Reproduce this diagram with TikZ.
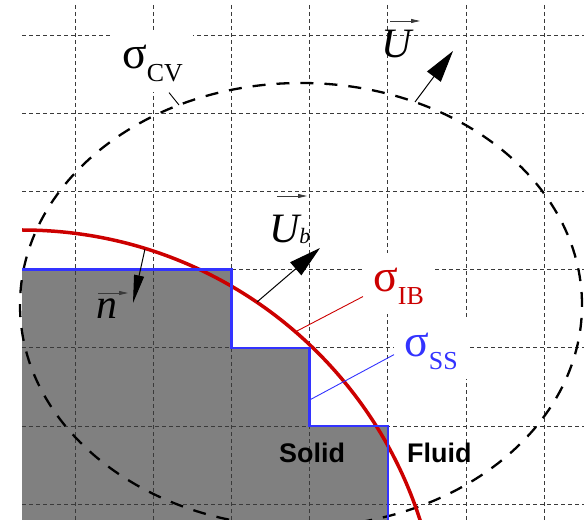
\documentclass[tikz,border=0pt]{standalone}
\usepackage{fontspec}
\setmainfont{Liberation Serif}
\newfontfamily\labelsans{Liberation Sans}
\usetikzlibrary{arrows.meta}
\definecolor{ibred}{HTML}{CC0000}
\definecolor{ssblue}{HTML}{3333FF}
\definecolor{solidgrey}{HTML}{808080}
\definecolor{gridgrey}{HTML}{3A3A3A}
\newcommand\sigsub[1]{{\fontsize{46}{46}\selectfont σ}\raisebox{-13bp}{\fontsize{26}{26}\selectfont #1}}
\begin{document}
\begin{tikzpicture}[x=1bp,y=-1bp,
  gridline/.style={gridgrey,line width=0.8bp,dash pattern=on 4bp off 3bp},
  cvline/.style={black,line width=2.3bp,dash pattern=on 13bp off 11bp},
  ibline/.style={ibred,line width=3.5bp},
  ssline/.style={ssblue,line width=2.5bp},
  bigarrow/.style={black,line width=1bp,-{Triangle[length=32bp,width=17bp]}},
  nrmarrow/.style={black,line width=1bp,-{Triangle[length=28bp,width=10bp]}},
  vecarrow/.style={gridgrey,line width=0.8bp,-{Triangle[length=9bp,width=4bp]}},
  sigmalabel/.style={anchor=base west,fill=white,inner xsep=10bp,inner ysep=10bp,text height=28bp},
  mathletter/.style={anchor=base west,inner sep=0pt,font=\fontsize{42}{42}\selectfont\itshape},
  regionlabel/.style={anchor=base west,inner sep=0pt,font=\labelsans\bfseries\fontsize{27}{27}\selectfont},
  leader/.style={line width=0.9bp},
]
\useasboundingbox (0,0) rectangle (584,520);
% solid region
\fill[solidgrey] (22,269.6) -- (231.4,269.6) -- (231.4,347.8) -- (309.6,347.8)
  -- (309.6,426) -- (387.8,426) -- (387.8,520) -- (22,520) -- cycle;
% grid
\foreach \gx in {75,153.2,231.4,309.6,387.8,466,544.2}
  \draw[gridline] (\gx,5) -- (\gx,520);
\foreach \gy in {35,113.2,191.4,269.6,347.8,426,504.2}
  \draw[gridline] (22,\gy) -- (584,\gy);
% control volume
\begin{scope}
\clip (0,0) rectangle (584,520);
\draw[cvline] (301,305) ellipse [x radius=281bp, y radius=222bp];
\end{scope}
% immersed boundary
\begin{scope}
\clip (22,0) rectangle (584,520);
\draw[ibline] (22,648) circle [radius=418bp];
\end{scope}
% stair-step boundary
\draw[ssline] (22,269.6) -- (231.4,269.6) -- (231.4,347.8) -- (309.6,347.8)
  -- (309.6,426) -- (387.8,426) -- (387.8,520);
% labels
\node[sigmalabel] (sCV) at (112,69) {\sigsub{CV}};
\node[sigmalabel,text=ibred] (sIB) at (363,291) {\sigsub{IB}};
\node[sigmalabel,text=ssblue] (sSS) at (394,356) {\sigsub{SS}};
\node[mathletter] (lblU) at (381,58) {U};
\node[mathletter] (lblUb) at (269,242) {U\raisebox{-1bp}{\fontsize{22}{22}\selectfont b}};
\node[mathletter] (lbln) at (96,318) {n};
\node[regionlabel] (solid) at (279,462) {Solid};
\node[regionlabel] (fluid) at (407,462) {Fluid};
% vector marks
\draw[vecarrow] ([shift={(9,-37)}]lblU.base west) -- ++(30,0);
\draw[vecarrow] ([shift={(8,-46)}]lblUb.base west) -- ++(30,0);
\draw[vecarrow] ([shift={(2,-25)}]lbln.base west) -- ++(30,0);
% arrows
\coordinate (Ustart) at (415,102);
\coordinate (Utip) at (453,51);
\coordinate (Ubstart) at (257,302);
\coordinate (Ubtip) at (320,248);
\coordinate (nstart) at (145,249);
\coordinate (ntip) at (133,303);
\draw[bigarrow] (Ustart) -- (Utip);
\draw[bigarrow] (Ubstart) -- (Ubtip);
\draw[nrmarrow] (nstart) -- (ntip);
% leaders
\coordinate (cvfoot) at (179,105);
\coordinate (ibfoot) at (297,331);
\coordinate (ssfoot) at (309.6,400);
\draw[leader,black] ([xshift=57bp]sCV.south west) -- (cvfoot);
\draw[leader,ibred] ([yshift=-13bp]sIB.west) -- (ibfoot);
\draw[leader,ssblue] ([yshift=-6bp]sSS.west) -- (ssfoot);
\end{tikzpicture}
\end{document}
